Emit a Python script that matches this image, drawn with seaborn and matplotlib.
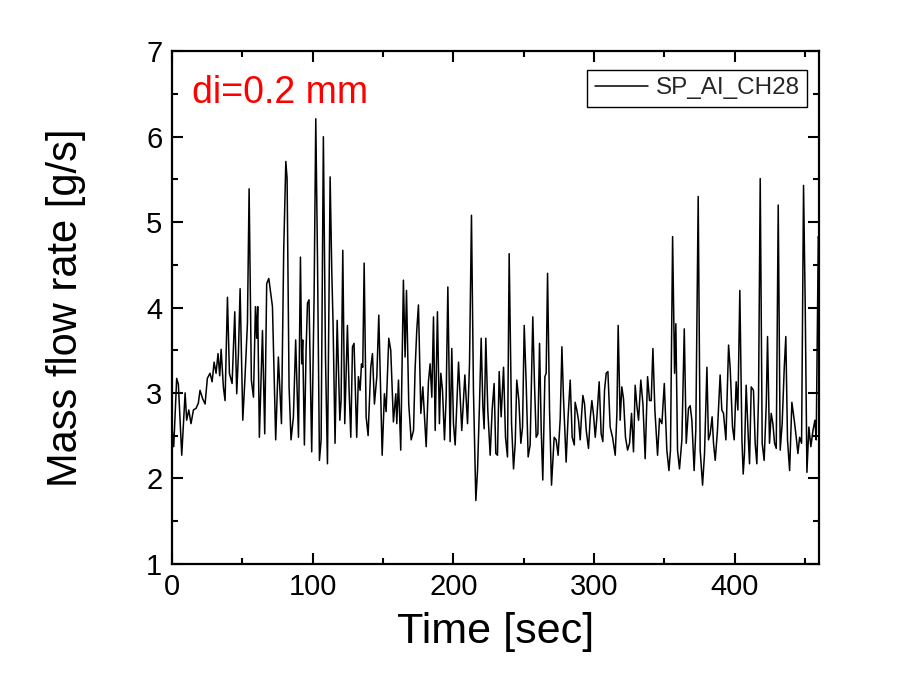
import matplotlib
matplotlib.use("Agg")
import matplotlib.pyplot as plt
from matplotlib.ticker import MultipleLocator
import seaborn as sns

# values (time in s, mass flow rate in g/s)
time_s = [
    0, 1.2, 3.3, 4.5, 6.9, 9.3, 10.4, 11.9, 13.5, 15.2, 17.1, 18.7, 19.9, 21.8, 23.5,
    25.1, 27.0, 28.5, 29.9, 31.3, 32.7, 33.9, 34.9, 36.5, 37.7, 39.4, 40.8, 42.7, 44.6,
    46.0, 47.2, 48.4, 50.3, 51.9, 53.6, 54.8, 56.4, 57.9, 59.3, 60.2, 60.9, 62.1, 64.3,
    65.9, 67.3, 68.8, 70.2, 71.4, 73.7, 75.6, 77.8, 79.4, 80.9, 81.8, 83.2, 84.6, 86.3,
    87.9, 89.9, 91.3,
    92.2, 92.9, 94.1, 95.3, 96.3, 97.4, 99.3, 101.0, 102.2, 103.4, 104.8, 106.0, 107.6,
    109.1, 110.5, 112.4, 113.6, 114.5, 115.9, 117.4, 119.3, 120.2, 121.4, 122.8, 124.7,
    125.9, 127.1, 128.3, 129.4, 131.3, 132.5, 133.7, 134.7, 135.6, 136.6, 138.0, 139.4,
    141.3, 142.5, 143.9, 145.6, 147.0, 149.4, 151.0, 152.2, 154.1, 155.5, 157.4, 159.1,
    159.8, 161.0, 162.6, 164.5, 165.7, 166.7, 168.3, 170.0, 171.7, 172.8, 174.0, 175.2,
    176.9, 178.3, 180.7, 182.3, 183.5,
    184.7, 185.9, 187.1, 188.7, 190.1, 191.1, 192.3, 193.7, 194.9, 196.1, 197.7, 198.9,
    200.1, 201.3, 203.7, 206.0, 208.2, 210.1, 211.5, 212.9, 214.3, 216.0, 217.2, 218.6,
    219.8, 221.0, 221.9, 223.1, 224.5, 226.2, 227.6, 229.0, 230.2, 231.4, 232.6, 234.0,
    235.7, 237.1, 238.5, 239.7, 241.4, 242.8, 244.0, 245.1, 246.6, 248.0, 249.2, 250.4,
    251.8, 253.2, 254.6, 256.5, 257.7, 258.9, 260.1, 261.3, 262.5, 263.6, 265.1, 266.0,
    267.0, 268.4, 269.8, 271.7, 273.1, 274.5, 276.0,
    277.2, 278.3, 280.2, 281.6, 283.1, 284.5, 286.0, 286.6, 287.8, 289.0, 290.2, 291.1,
    292.1, 293.3, 294.5, 296.1, 297.3, 298.5, 299.7, 300.9, 302.0, 303.7, 305.1, 306.3,
    307.5, 308.7, 309.9, 311.5, 313.2, 315.1, 316.3, 317.2, 318.6, 319.8, 321.0, 322.4,
    323.9, 325.3, 326.7, 328.1, 329.3, 330.5, 331.7, 333.3, 334.8, 336.4, 338.1, 339.5,
    340.7, 341.9, 343.3, 345.2, 346.6, 348.3, 350.0, 351.8, 353.3, 354.4, 355.9, 357.3,
    358.2, 359.4, 360.8, 362.5, 364.2, 365.6, 367.2, 368.4,
    369.6, 371.2, 372.4, 374.1, 375.5, 377.2, 378.6, 380.3, 381.4, 382.6, 384.0, 385.0,
    386.2, 387.8, 389.7, 390.9, 392.1, 393.8, 395.7, 396.9, 398.5, 399.7, 401.1, 402.3,
    403.7, 405.2, 406.1, 407.0, 408.2, 409.7, 410.6, 411.8, 413.4, 414.6, 415.8, 417.0,
    418.2, 419.6, 421.0, 422.5, 423.4, 424.8, 426.0, 427.2, 428.4, 429.6, 431.0, 432.4,
    433.8, 435.3, 436.4, 437.6, 439.1, 440.7, 442.4, 443.8, 445.0, 446.2, 447.6, 449.0,
    450.2, 451.4, 452.8, 454.2, 455.7, 457.1, 458.0, 459.5, 460.0,
]
mass_flow = [
    2.60, 2.37, 3.17, 3.10, 2.27, 3.00, 2.68, 2.80, 2.64, 2.80, 2.82, 2.88, 3.03, 2.93, 2.87,
    3.17, 3.23, 3.13, 3.36, 3.23, 3.46, 3.20, 3.51, 3.07, 2.91, 4.12, 3.23, 3.11, 3.95,
    2.99, 3.46, 4.22, 2.68, 3.19, 3.81, 5.39, 3.15, 2.95, 4.01, 3.64, 4.01, 2.48, 3.73,
    2.52, 4.28, 4.34, 4.16, 4.01, 2.45, 3.42, 2.64, 4.67, 5.71, 5.51, 3.07, 2.45, 2.72,
    3.62, 2.48, 4.59,
    3.34, 3.62, 2.39, 3.50, 4.05, 4.09, 2.31, 4.12, 6.21, 4.59, 2.21, 2.45, 6.00,
    3.42, 2.17, 5.53, 4.40, 3.81, 2.41, 3.85, 2.68, 2.91, 4.67, 2.64, 3.79,
    3.03, 2.48, 3.54, 3.58, 2.48, 3.19, 3.03, 3.34, 3.30, 4.52, 2.72, 2.50,
    3.30, 3.46, 2.87, 3.19, 3.91, 2.27, 2.99, 2.78, 3.64, 3.50, 2.66, 2.99,
    2.64, 3.15, 2.33, 4.32, 3.42, 4.20, 2.87, 2.45, 2.56, 3.27, 3.73, 4.03,
    2.76, 3.07, 2.37, 3.13, 3.34,
    2.95, 3.89, 2.56, 3.95, 2.64, 3.23, 3.03, 2.45, 2.95, 4.24, 2.43, 3.52,
    2.64, 2.39, 3.36, 2.56, 3.21, 2.64, 3.34, 5.08, 3.03, 1.74, 2.09, 2.87,
    3.64, 2.84, 2.58, 3.64, 2.80, 2.27, 2.80, 3.11, 2.29, 2.27, 3.25, 2.72,
    3.30, 2.48, 2.25, 4.63, 2.64, 2.11, 2.41, 3.15, 2.91, 2.41, 2.60, 3.79,
    3.11, 2.25, 2.39, 3.89, 3.11, 2.48, 2.52, 3.58, 2.56, 1.98, 3.19, 3.23,
    4.40, 2.80, 1.92, 2.48, 2.45, 2.27, 2.70,
    3.54, 2.95, 2.19, 2.72, 3.15, 2.48, 2.39, 2.89, 2.80, 2.68, 2.45, 2.72,
    2.97, 2.87, 2.56, 2.35, 2.70, 2.91, 2.74, 2.48, 2.70, 3.13, 2.52, 2.43,
    3.03, 3.23, 3.25, 2.60, 2.48, 2.27, 2.76, 3.79, 2.68, 3.07, 2.93, 2.48,
    2.33, 2.41, 2.76, 2.31, 3.09, 2.85, 2.68, 3.15, 2.87, 2.23, 3.19, 2.91,
    2.91, 3.52, 2.80, 2.27, 2.70, 2.64, 3.11, 2.33, 2.09, 2.33, 4.83, 3.23,
    3.81, 2.33, 2.11, 2.45, 3.75, 2.41, 2.82, 2.85,
    2.68, 2.09, 2.56, 5.30, 2.33, 1.92, 2.29, 3.30, 2.45, 2.52, 2.72, 2.41,
    2.21, 2.56, 3.21, 2.80, 2.76, 2.45, 3.56, 3.27, 2.60, 2.45, 3.13, 2.80,
    4.20, 2.45, 2.05, 2.29, 3.09, 2.48, 2.17, 3.07, 3.03, 2.41, 2.17, 2.95,
    5.51, 2.41, 2.21, 2.87, 3.66, 2.41, 2.76, 2.64, 2.41, 2.35, 5.20, 2.33,
    2.64, 3.30, 3.66, 2.45, 2.09, 2.89, 2.68, 2.48, 2.29, 2.48, 2.41, 5.43,
    4.01, 2.07, 2.60, 2.37, 2.56, 2.68, 2.45, 4.83, 4.79,
]

sns.set_style("ticks")
plt.rcParams["font.family"] = ["Liberation Sans", "DejaVu Sans"]

fig = plt.figure(figsize=(9.19, 6.88), dpi=100)
ax = fig.add_axes([0.1872, 0.1807, 0.704, 0.7447])

sns.lineplot(x=time_s, y=mass_flow, ax=ax, color="black", linewidth=1.1,
             estimator=None, sort=False, label="SP_AI_CH28")

ax.set_xlim(0, 460)
ax.set_ylim(1, 7)
ax.xaxis.set_major_locator(MultipleLocator(100))
ax.xaxis.set_minor_locator(MultipleLocator(50))
ax.yaxis.set_major_locator(MultipleLocator(1))
ax.yaxis.set_minor_locator(MultipleLocator(0.5))
ax.tick_params(which="both", direction="in", top=True, right=True,
               width=1.5, color="black", labelsize=21, labelcolor="black")
ax.tick_params(which="major", length=8, pad=7)
ax.tick_params(which="minor", length=4.5)
for sp in ax.spines.values():
    sp.set_visible(True)
    sp.set_linewidth(1.6)
    sp.set_color("black")

ax.set_xlabel("Time [sec]", fontsize=31, color="black", va="top")
ax.set_ylabel("Mass flow rate [g/s]", fontsize=30, color="black")
ax.xaxis.set_label_coords(0.5, -0.094)
ax.yaxis.set_label_coords(-0.133, 0.5)

ax.text(0.031, 0.899, "di=0.2 mm", transform=ax.transAxes, color="red",
        fontsize=27, va="baseline")

leg = ax.legend(loc="upper right", bbox_to_anchor=(0.981, 0.9635), borderaxespad=0,
                fontsize=17.5, frameon=True, fancybox=False, handlelength=2.2,
                handletextpad=0.3, borderpad=0.3)
leg.get_frame().set_edgecolor("black")
leg.get_frame().set_linewidth(1.0)
leg.get_frame().set_alpha(1)

fig.savefig("out.png", dpi=100)
